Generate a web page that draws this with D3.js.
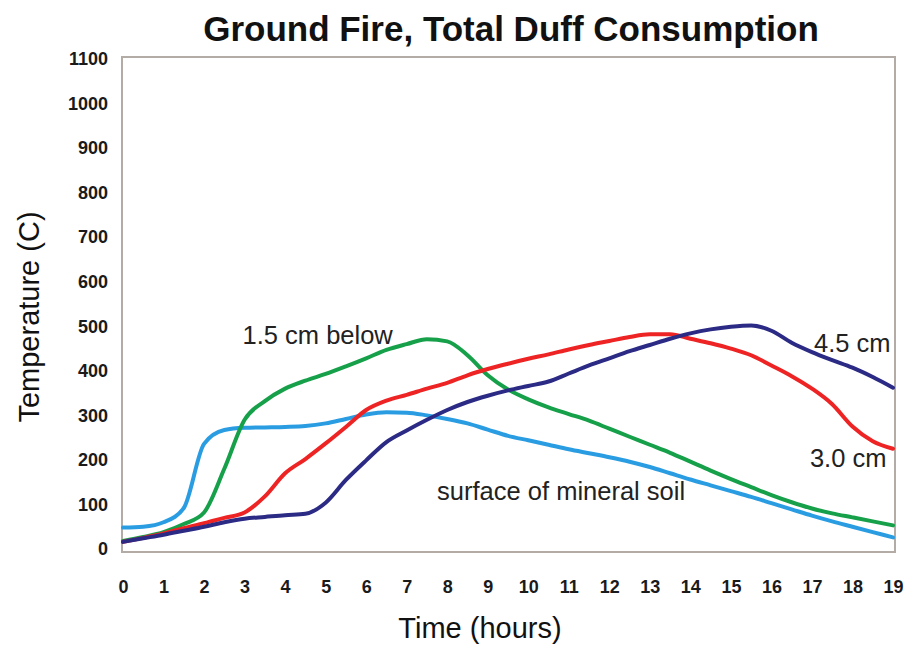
<!DOCTYPE html>
<html>
<head>
<meta charset="utf-8">
<script src="https://cdn.jsdelivr.net/npm/d3@7"></script>
<style>
  body { margin: 0; background: #fff; }
  svg { display: block; font-family: Arial, "Liberation Sans", sans-serif; }
</style>
</head>
<body>
<div id="chart"></div>
<script>
// hours sampled every half hour
const hours = d3.range(0, 19.01, 0.5);

const surface = [48, 50, 60, 92, 236, 267, 272, 273, 274, 276, 282, 292, 302, 307, 306, 300, 292, 282, 268, 254,
  244, 234, 224, 215, 206, 196, 184, 170, 156, 143, 130, 117, 103, 89, 75, 62, 50, 38, 26];
const below15 = [18, 27, 38, 56, 82, 180, 290, 332, 360, 378, 393, 410, 428, 447, 460, 471, 466, 435, 390, 358,
  336, 318, 303, 288, 270, 252, 234, 216, 196, 176, 157, 139, 121, 105, 91, 80, 71, 62, 53];
const cm30 = [16, 25, 35, 47, 58, 70, 82, 118, 170, 202, 237, 274, 312, 333, 346, 360, 373, 390, 404, 416,
  427, 437, 448, 458, 467, 476, 482, 482, 472, 462, 450, 435, 412, 388, 360, 325, 275, 242, 225];
const cm45 = [16, 24, 32, 41, 50, 60, 68, 72, 76, 79, 104, 155, 199, 240, 266, 290, 312, 330, 344, 356,
  366, 376, 394, 412, 428, 444, 458, 472, 484, 493, 499, 502, 490, 463, 442, 424, 407, 386, 362];

const xTicks = d3.range(0, 20);
const yTicks = d3.range(0, 1101, 100);

const seriesNames = ['surface of mineral soil', '1.5 cm below', '3.0 cm', '4.5 cm'];
const seriesColors = ['#2a9de2', '#17a04a', '#ee2424', '#2b2a85'];
const seriesValues = [surface, below15, cm30, cm45];
// where each line's label sits, in data units [hour, temperature]
const labelPos = [[7.75, 110], [2.95, 460], [16.95, 184], [17.05, 443]];

const width = 908, height = 647;
const x = d3.scaleLinear().domain([0, 19]).range([123, 893]);
const y = d3.scaleLinear().domain([0, 1100]).range([549, 59]);

let svg = d3.select('#chart').append('svg').attr('width', width).attr('height', height);

svg.append('rect')
  .attr('x', 122).attr('y', 57).attr('width', 895 - 122).attr('height', 552 - 57)
  .attr('fill', 'none').attr('stroke', '#b3aca6').attr('stroke-width', 2);

svg.append('text')
  .attr('x', 511).attr('y', 41)
  .attr('text-anchor', 'middle')
  .attr('font-size', '35px').attr('font-weight', 'bold').attr('fill', '#111')
  .text('Ground Fire, Total Duff Consumption');

let yAxis = d3.axisLeft(y).tickValues(yTicks).tickFormat(d3.format('d')).tickSize(0).tickPadding(14);
let gy = svg.append('g').attr('transform', 'translate(122,0)').call(yAxis);
gy.select('.domain').remove();
gy.selectAll('text').attr('font-size', '18px').attr('font-weight', 'bold')
  .attr('font-family', 'Arial, "Liberation Sans", sans-serif').attr('fill', '#1a1a1a');

let xAxis = d3.axisBottom(x).tickValues(xTicks).tickSize(0).tickPadding(28);
let gx = svg.append('g').attr('transform', 'translate(0,552)').call(xAxis);
gx.select('.domain').remove();
gx.selectAll('text').attr('font-size', '18px').attr('font-weight', 'bold')
  .attr('font-family', 'Arial, "Liberation Sans", sans-serif').attr('fill', '#1a1a1a');

svg.append('text')
  .attr('x', 480).attr('y', 638)
  .attr('text-anchor', 'middle').attr('font-size', '29px').attr('fill', '#111')
  .text('Time (hours)');

svg.append('text')
  .attr('transform', 'translate(39,317) rotate(-90)')
  .attr('text-anchor', 'middle').attr('font-size', '29px').attr('fill', '#111')
  .text('Temperature (C)');

let line = d3.line()
  .x(function(d){ return x(d[0]); })
  .y(function(d){ return y(d[1]); })
  .curve(d3.curveMonotoneX);

seriesValues.forEach(function(values, i){
  svg.append('path')
    .datum(hours.map(function(h, j){ return [h, values[j]]; }))
    .attr('d', line)
    .attr('fill', 'none')
    .attr('stroke', seriesColors[i])
    .attr('stroke-width', 4)
    .attr('stroke-linejoin', 'round')
    .attr('stroke-linecap', 'round');
});

seriesNames.forEach(function(name, i){
  svg.append('text')
    .attr('x', x(labelPos[i][0])).attr('y', y(labelPos[i][1]))
    .attr('font-size', '25.5px').attr('fill', '#222')
    .text(name);
});
</script>
</body>
</html>
